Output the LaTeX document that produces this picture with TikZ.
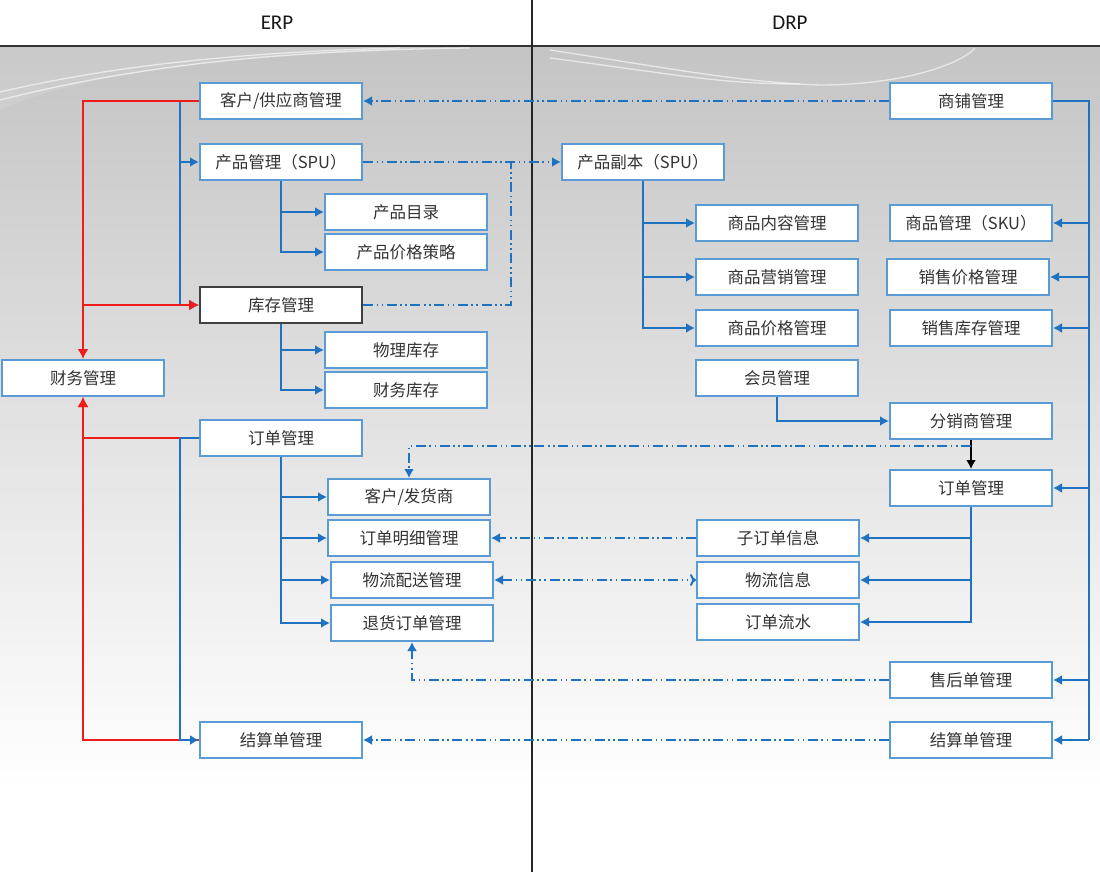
\documentclass[tikz,border=0pt]{standalone}
\usepackage{fontspec}
\setmainfont{Carlito}
\newfontfamily\cjk{Noto Sans CJK SC}
\usetikzlibrary{arrows.meta}
\definecolor{lblue}{HTML}{5B9BD5}
\definecolor{dblue}{HTML}{1F72BF}
\definecolor{lred}{HTML}{F01C1C}
\definecolor{txt}{HTML}{333333}
\tikzset{
  box/.style={draw=lblue, fill=white, line width=2pt, minimum width=162pt, minimum height=36pt, inner sep=0pt, text=txt, font=\cjk\fontsize{16.5}{17}\selectfont},
  tip/.style={-{Latex[length=9pt,width=10pt]}},
  bl/.style={draw=dblue, line width=2pt, tip},
  bln/.style={draw=dblue, line width=2pt},
  rda/.style={draw=lred, line width=2pt, -{Latex[length=10pt,width=11pt]}},
  ddp/.style={draw=dblue, line width=2pt, dash pattern=on 10pt off 3.5pt on 1.6pt off 3.5pt on 1.6pt off 3.5pt},
  dd/.style={ddp, tip},
  ddn/.style={ddp},
}
\begin{document}
\begin{tikzpicture}[x=1pt,y=-1pt]
\useasboundingbox (0,0) rectangle (1100,872);
% background
\fill[white] (0,0) rectangle (1100,872);
\shade[top color=black!23, middle color=black!10, bottom color=white] (0,47) rectangle (1100,790);
% decorative curves
\draw[white, line width=1.3pt, opacity=0.6] (0,100) .. controls (150,62) and (300,50) .. (470,48);
\draw[white, line width=1.3pt, opacity=0.6] (0,92) .. controls (120,64) and (250,52) .. (400,48);
\draw[white, line width=1.3pt, opacity=0.6] (550,58) .. controls (680,75) and (720,84) .. (800,84);
\draw[white, line width=1.3pt, opacity=0.6] (550,50) .. controls (680,70) and (740,82) .. (820,85) .. controls (900,85) and (960,65) .. (975,48);
\fill[white, opacity=0.1] (0,110) .. controls (100,64) and (300,50) .. (520,48) -- (0,48) -- cycle;
% header lines
\draw[black!80, line width=2pt] (0,46) -- (1100,46);
\draw[black!85, line width=2pt] (532,0) -- (532,872);
\node[font=\fontsize{21}{21}\selectfont, text=black!90] (herp) at (277,23) {ERP};
\node[font=\fontsize{21}{21}\selectfont, text=black!90] (hdrp) at (790,23) {DRP};

% ERP nodes
\node[box] (kh) at (281,101) {客户/供应商管理};
\node[box] (cp) at (281,162) {产品管理（SPU）};
\node[box] (ml) at (406,212) {产品目录};
\node[box] (jg) at (406,252) {产品价格策略};
\node[box, draw=black!75] (kc) at (281,305) {库存管理};
\node[box] (wl) at (406,350) {物理库存};
\node[box] (cwkc) at (406,390) {财务库存};
\node[box] (cw) at (83,378) {财务管理};
\node[box] (dd) at (281,438) {订单管理};
\node[box] (khf) at (409,497) {客户/发货商};
\node[box] (mx) at (409,538) {订单明细管理};
\node[box] (ps) at (412,580) {物流配送管理};
\node[box] (th) at (412,623) {退货订单管理};
\node[box] (js) at (281,740) {结算单管理};

% DRP nodes
\node[box] (sp) at (971,101) {商铺管理};
\node[box] (fb) at (643,162) {产品副本（SPU）};
\node[box] (nr) at (777,223) {商品内容管理};
\node[box] (yx) at (777,277) {商品营销管理};
\node[box] (spjg) at (777,328) {商品价格管理};
\node[box] (hy) at (777,378) {会员管理};
\node[box] (sku) at (971,223) {商品管理（SKU）};
\node[box] (xsjg) at (968,277) {销售价格管理};
\node[box] (xskc) at (971,328) {销售库存管理};
\node[box] (fx) at (971,421) {分销商管理};
\node[box] (dd2) at (971,488) {订单管理};
\node[box] (zdd) at (778,538) {子订单信息};
\node[box] (wlxx) at (778,580) {物流信息};
\node[box] (ls) at (778,622) {订单流水};
\node[box] (sh) at (971,680) {售后单管理};
\node[box] (js2) at (971,740) {结算单管理};

% coordinates
\coordinate (t1) at (180,101);
\coordinate (t2) at (180,438);
\coordinate (k1) at (511,305);
\coordinate (k2) at (511,162);
\coordinate (r1) at (1089,101);
\coordinate (f1) at (971,446);

% ERP lower red (under blue)
\draw[rda] (dd.west) -| (cw.south);
\draw[rda] (js.west) -| (cw.south);

% ERP blue
\draw[bln] (t1) -- (kc.west -| t1);
\draw[bl] (t1) |- (cp.west);
\draw[bl] (t1) |- (kc.west);
\draw[bl] (cp.south) |- (ml.west);
\draw[bl] (cp.south) |- (jg.west);
\draw[bl] (kc.south) |- (wl.west);
\draw[bl] (kc.south) |- (cwkc.west);
\draw[bln] (dd.west) -- (t2);
\draw[bl] (t2) |- (js.west);
\draw[bl] (dd.south) |- (khf.west);
\draw[bl] (dd.south) |- (mx.west);
\draw[bl] (dd.south) |- (ps.west);
\draw[bl] (dd.south) |- (th.west);

% ERP upper red (over blue)
\draw[rda] (kh.west) -| (cw.north);
\draw[rda] (cw.north |- kc.west) -- (kc.west);

% DRP blue
\draw[bl] (fb.south) |- (nr.west);
\draw[bl] (fb.south) |- (yx.west);
\draw[bl] (fb.south) |- (spjg.west);
\draw[bl] (hy.south) |- (fx.west);
\draw[bln] (sp.east) -- (r1) -- (r1 |- js2.east);
\draw[bl] (r1 |- sku.east) -- (sku.east);
\draw[bl] (r1 |- xsjg.east) -- (xsjg.east);
\draw[bl] (r1 |- xskc.east) -- (xskc.east);
\draw[bl] (r1 |- dd2.east) -- (dd2.east);
\draw[bl] (r1 |- sh.east) -- (sh.east);
\draw[bl] (r1 |- js2.east) -- (js2.east);
\draw[bl] (dd2.south) |- (zdd.east);
\draw[bl] (dd2.south) |- (wlxx.east);
\draw[bl] (dd2.south) |- (ls.east);
\draw[black, line width=2pt, tip] (fx.south) -- (dd2.north);

% cross links dash-dot
\draw[dd] (sp.west) -- (kh.east);
\draw[dd] (cp.east) -- (fb.west);
\draw[ddn] (kc.east) -- (k1) -- (k2);
\draw[dd] (f1) -| (khf.north);
\draw[dd] (zdd.west) -- (mx.east);
\draw[ddn, {Latex[length=9pt,width=10pt]}-{To[length=6pt,width=12pt]}] (ps.east) -- (wlxx.west);
\draw[dd] (sh.west) -| (th.south);
\draw[dd] (js2.west) -- (js.east);
\end{tikzpicture}
\end{document}
